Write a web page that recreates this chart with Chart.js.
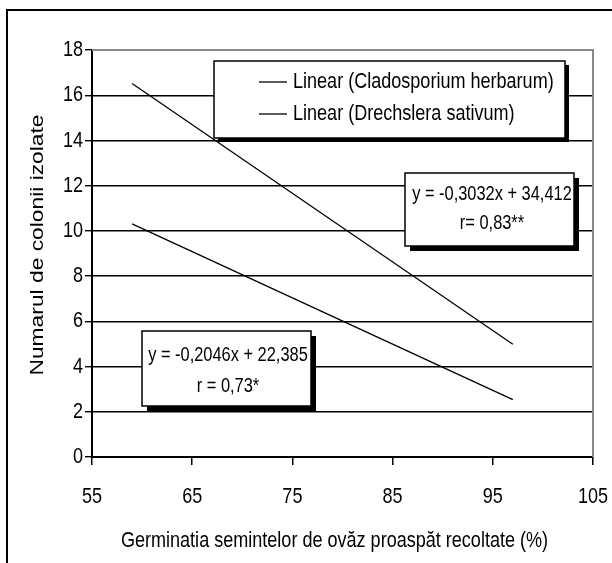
<!DOCTYPE html>
<html>
<head>
<meta charset="utf-8">
<script src="https://cdn.jsdelivr.net/npm/chart.js@4.4.1/dist/chart.umd.min.js"></script>
<style>
  html, body { margin: 0; padding: 0; background: #fff; }
  #wrap { position: relative; width: 612px; height: 563px; overflow: hidden; }
  #frame { position: absolute; left: 6px; top: 9px; width: 700px; height: 700px; border: 2px solid #000; box-sizing: border-box; }
  canvas { position: absolute; left: 0; top: 0; }
</style>
</head>
<body>
<div id="wrap">
  <div id="frame"></div>
  <canvas id="chart" width="612" height="563"></canvas>
</div>
<script>
// data (trend line end points)
const seriesNames = ['Linear (Cladosporium herbarum)', 'Linear (Drechslera sativum)'];
const cladoX = [59, 97];
const cladoY = [16.52, 4.99];
const drechX = [59, 97];
const drechY = [10.31, 2.54];
const xTicks = [55, 65, 75, 85, 95, 105];
const yTicks = [0, 2, 4, 6, 8, 10, 12, 14, 16, 18];
const eqClado = ['y = -0,3032x + 34,412', 'r= 0,83**'];
const eqDrech = ['y = -0,2046x + 22,385', 'r = 0,73*'];
const xTitle = 'Germinatia semintelor de ovăz proaspăt recoltate (%)';
const yTitle = 'Numarul de colonii izolate';

// the original uses a narrow Arial; squeeze Liberation Sans to get the same look
const FONT = "'Liberation Sans', Arial, sans-serif";
const NARROW = 0.82;

const toPoints = (xs, ys) => xs.map((x, i) => ({ x: x, y: ys[i] }));

function drawText(ctx, text, x, y, size, sx, align, rot) {
  ctx.save();
  ctx.translate(x, y);
  if (rot) ctx.rotate(rot);
  ctx.scale(sx, 1);
  ctx.font = size + 'px ' + FONT;
  ctx.fillStyle = '#000';
  ctx.textAlign = align;
  ctx.textBaseline = 'middle';
  ctx.fillText(text, 0, 0);
  ctx.restore();
}

// boxes drawn on top of the plot (pixel positions on the canvas)
const boxes = [
  { x: 405, y: 173, w: 169, h: 73, lines: eqClado, ly: [194, 223], cx: 492 },
  { x: 142, y: 331, w: 169, h: 75, lines: eqDrech, ly: [355, 386], cx: 228 }
];
const legendBox = { x: 214, y: 61, w: 351, h: 77, rows: [82, 114] };

const textPlugin = {
  id: 'textPlugin',
  beforeDatasetsDraw(chart) {
    const { ctx, chartArea: a, scales } = chart;
    ctx.save();
    ctx.strokeStyle = '#888';
    ctx.lineWidth = 2;
    ctx.beginPath();
    ctx.moveTo(a.left, a.top);
    ctx.lineTo(a.right, a.top);
    ctx.lineTo(a.right, a.bottom);
    ctx.stroke();
    ctx.restore();
    // tick labels and axis titles
    xTicks.forEach(v => drawText(ctx, String(v), scales.x.getPixelForValue(v), 497, 22, NARROW, 'center'));
    yTicks.forEach(v => drawText(ctx, String(v), 83, scales.y.getPixelForValue(v), 22, NARROW, 'right'));
    drawText(ctx, xTitle, (a.left + a.right) / 2 - 8, 541, 22, NARROW, 'center');
    drawText(ctx, yTitle, 38, 245, 19, 1.2, 'center', -Math.PI / 2);
  },
  afterDraw(chart) {
    const ctx = chart.ctx;
    ctx.save();
    // legend
    const L = legendBox;
    ctx.fillStyle = '#000';
    ctx.fillRect(L.x + 4, L.y + 4, L.w, L.h);
    ctx.fillStyle = '#fff';
    ctx.fillRect(L.x, L.y, L.w, L.h);
    ctx.strokeStyle = '#000';
    ctx.lineWidth = 1.5;
    ctx.strokeRect(L.x, L.y, L.w, L.h);
    seriesNames.forEach((name, i) => {
      const yy = L.rows[i];
      ctx.beginPath();
      ctx.lineWidth = 1.3;
      ctx.moveTo(259, yy);
      ctx.lineTo(287, yy);
      ctx.stroke();
      drawText(ctx, name, 293, yy, 22, NARROW, 'left');
    });
    // equation boxes
    boxes.forEach(b => {
      ctx.fillStyle = '#000';
      ctx.fillRect(b.x + 5, b.y + 5, b.w, b.h);
      ctx.fillStyle = '#fff';
      ctx.fillRect(b.x, b.y, b.w, b.h);
      ctx.lineWidth = 1.5;
      ctx.strokeRect(b.x, b.y, b.w, b.h);
      b.lines.forEach((t, i) => drawText(ctx, t, b.cx, b.ly[i], 20, NARROW, 'center'));
    });
    ctx.restore();
  }
};

new Chart(document.getElementById('chart'), {
  type: 'scatter',
  data: {
    datasets: [
      { label: seriesNames[0], data: toPoints(cladoX, cladoY), showLine: true,
        borderColor: '#000', borderWidth: 1.3, pointRadius: 0 },
      { label: seriesNames[1], data: toPoints(drechX, drechY), showLine: true,
        borderColor: '#000', borderWidth: 1.3, pointRadius: 0 }
    ]
  },
  options: {
    responsive: false,
    animation: false,
    layout: { padding: { left: 0, top: 50, right: 19, bottom: 0 } },
    plugins: { legend: { display: false }, tooltip: { enabled: false } },
    scales: {
      x: {
        type: 'linear', min: 55, max: 105,
        afterBuildTicks: s => { s.ticks = xTicks.map(v => ({ value: v })); },
        afterFit: s => { s.height = 106; },
        grid: { drawOnChartArea: false, color: '#000', tickLength: 8, lineWidth: 1.5 },
        border: { color: '#000', width: 2 },
        ticks: { display: false }
      },
      y: {
        type: 'linear', min: 0, max: 18,
        afterBuildTicks: s => { s.ticks = yTicks.map(v => ({ value: v })); },
        afterFit: s => { s.width = 92; },
        grid: { color: c => (c.tick && c.tick.value === 18) ? '#888' : '#000',
          tickColor: '#000', tickLength: 7, lineWidth: 1.4 },
        border: { color: '#000', width: 2 },
        ticks: { display: false }
      }
    }
  },
  plugins: [textPlugin]
});
</script>
</body>
</html>
